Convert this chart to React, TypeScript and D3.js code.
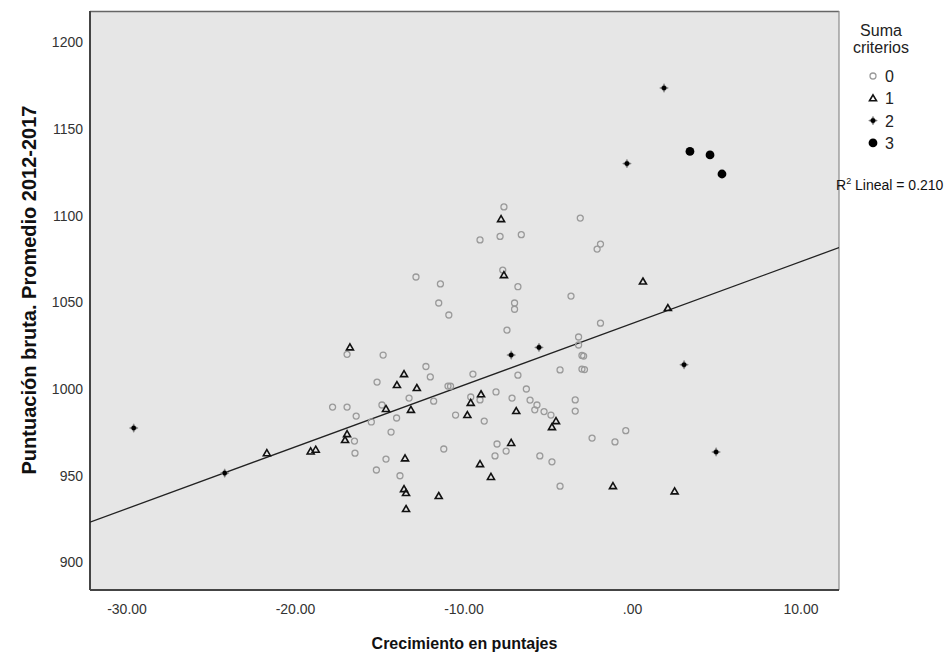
import React, { useEffect, useRef } from 'react';
import * as d3 from 'd3';

// Suma criterios = 0
const suma0: [number, number][] = [
  [-7.63, 1105], [-9.05, 1086], [-7.86, 1088], [-6.6, 1089], [-3.1, 1098.6], [-1.9, 1083.6],
  [-2.1, 1080.7], [-12.85, 1064.6], [-11.4, 1060.6], [-7.7, 1068.6], [-6.8, 1059], [-3.65, 1053.6],
  [-11.5, 1049.6], [-7.0, 1049.6], [-7.0, 1046], [-10.9, 1042.7], [-7.45, 1034], [-1.9, 1038],
  [-3.2, 1030], [-3.2, 1025.4], [-3.0, 1019.4], [-2.9, 1019.0], [-3.0, 1011.5], [-2.85, 1011.2],
  [-16.94, 1020], [-14.8, 1019.6], [-12.26, 1013], [-9.47, 1008.6], [-12.0, 1007], [-6.8, 1008],
  [-4.3, 1011], [-15.16, 1004], [-10.95, 1001.7], [-10.8, 1001.6], [-6.3, 1000], [-8.1, 998.3],
  [-7.15, 994.8], [-6.08, 993.6], [-5.67, 990.8], [-5.8, 988], [-5.25, 987], [-4.84, 985],
  [-3.4, 993.7], [-3.4, 987.3], [-13.26, 994.8], [-11.8, 993], [-9.6, 995.4], [-9.05, 993.7],
  [-17.8, 989.6], [-16.94, 989.6], [-14.87, 990.8], [-16.4, 984.4], [-14.0, 983.3], [-10.5, 985],
  [-8.8, 981.5], [-15.5, 981], [-16.5, 970], [-16.47, 963], [-14.33, 975.2], [-11.2, 965.4],
  [-8.04, 968.3], [-7.5, 964.2], [-8.16, 961.4], [-5.5, 961.4], [-4.78, 958], [-2.4, 971.7],
  [-1.04, 969.5], [-0.4, 976], [-14.63, 959.6], [-15.2, 953.3], [-13.8, 950], [-4.3, 944],
];

// Suma criterios = 1
const suma1: [number, number][] = [
  [-7.8, 1098], [-7.63, 1065.7], [-16.77, 1024], [-13.56, 1008.6], [-13.98, 1002.3], [-12.8, 1000.6],
  [-8.99, 997], [-9.6, 992], [-14.63, 988.5], [-13.15, 988], [-6.9, 987.3], [-9.8, 985],
  [-4.54, 981.5], [-4.78, 978], [-16.94, 974], [-17.06, 970.6], [-21.7, 963], [-19.1, 964],
  [-18.8, 965], [-7.2, 968.9], [-13.5, 960], [-9.05, 956.7], [-8.4, 949.3], [-13.56, 942.3],
  [-13.44, 940], [-11.5, 938.3], [-13.44, 930.8], [0.62, 1062], [2.1, 1046.7], [-1.16, 944],
  [2.5, 941],
];

// Suma criterios = 2
const suma2: [number, number][] = [
  [-29.6, 977.5], [-24.2, 951.5], [-7.2, 1019.6], [-5.55, 1024], [1.87, 1173.6], [-0.33, 1130],
  [3.06, 1014], [4.96, 963.7],
];

// Suma criterios = 3
const suma3: [number, number][] = [
  [3.41, 1137], [4.6, 1135], [5.31, 1124],
];

const xTicks = [-30, -20, -10, 0, 10];
const yTicks = [900, 950, 1000, 1050, 1100, 1150, 1200];
const legendLabels = ['0', '1', '2', '3'];

// fit line (R2 lineal = 0.210)
const fitIntercept = 1037.9;
const fitSlope = 3.562;
const r2 = 0.21;

const font = 'Liberation Sans, Arial, sans-serif';

const starPath = (r: number) => {
  const ri = r * 0.5;
  const pts: string[] = [];
  for (let i = 0; i < 8; i++) {
    const a = (Math.PI / 4) * i - Math.PI / 2;
    const rr = i % 2 === 0 ? r : ri;
    pts.push(`${(rr * Math.cos(a)).toFixed(2)},${(rr * Math.sin(a)).toFixed(2)}`);
  }
  return `M${pts.join('L')}Z`;
};
const triPath = 'M0,-3.5L3.5,2.5L-3.5,2.5Z';

const drawMarker = (sel: any, cat: number) => {
  if (cat === 0) {
    sel.append('circle').attr('r', 3).attr('fill', 'none')
      .attr('stroke', '#9a9a9a').attr('stroke-width', 1.3);
  } else if (cat === 1) {
    sel.append('path').attr('d', triPath).attr('fill', 'none')
      .attr('stroke', '#111').attr('stroke-width', 1.6).attr('stroke-linejoin', 'miter');
  } else if (cat === 2) {
    sel.append('path').attr('d', starPath(4.4)).attr('fill', '#555')
      .attr('stroke', '#999').attr('stroke-width', 0.6);
    sel.append('circle').attr('r', 2.3).attr('fill', '#000');
  } else {
    sel.append('circle').attr('r', 4.4).attr('fill', '#000');
  }
};

const App = () => {
  const ref = useRef<SVGSVGElement>(null);

  useEffect(() => {
    const svg = d3.select(ref.current);
    svg.selectAll('*').remove();

    const left = 90, right = 839, top = 11, bottom = 590;

    const xScale = d3.scaleLinear().domain([-32.196, 12.255]).range([left, right]);
    const yScale = d3.scaleLinear().domain([884.1, 1218]).range([bottom, top]);

    // plot background
    svg.append('rect')
      .attr('x', left).attr('y', top)
      .attr('width', right - left).attr('height', bottom - top)
      .attr('fill', '#e6e6e6');

    svg.append('defs').append('clipPath').attr('id', 'plotclip')
      .append('rect')
      .attr('x', left).attr('y', top)
      .attr('width', right - left).attr('height', bottom - top);

    // frame
    svg.append('line').attr('x1', left).attr('x2', right).attr('y1', top + 0.5).attr('y2', top + 0.5)
      .attr('stroke', '#666').attr('stroke-width', 1.5);
    svg.append('line').attr('x1', right).attr('x2', right).attr('y1', top).attr('y2', bottom)
      .attr('stroke', '#8a8a8a').attr('stroke-width', 1.2);
    svg.append('line').attr('x1', left).attr('x2', left).attr('y1', top).attr('y2', bottom)
      .attr('stroke', '#444').attr('stroke-width', 2);
    svg.append('line').attr('x1', left).attr('x2', right).attr('y1', bottom).attr('y2', bottom)
      .attr('stroke', '#444').attr('stroke-width', 2);

    // tick labels
    svg.append('g').selectAll('text')
      .data(yTicks)
      .enter().append('text')
      .attr('x', left - 7)
      .attr('y', d => yScale(d))
      .attr('dy', '0.35em')
      .attr('text-anchor', 'end')
      .style('font-family', font).style('font-size', '14px').style('fill', '#333')
      .text(d => d);

    // SPSS style: ".00" for zero, plain hyphen for negatives
    const fmtX = (d: number) => (d === 0 ? '.00' : d.toFixed(2));
    svg.append('g').selectAll('text')
      .data(xTicks)
      .enter().append('text')
      .attr('x', d => xScale(d))
      .attr('y', bottom + 24)
      .attr('text-anchor', 'middle')
      .style('font-family', font).style('font-size', '14px').style('fill', '#333')
      .text(d => fmtX(d));

    // regression line
    const [x0, x1] = xScale.domain();
    svg.append('line')
      .attr('clip-path', 'url(#plotclip)')
      .attr('x1', xScale(x0)).attr('y1', yScale(fitIntercept + fitSlope * x0))
      .attr('x2', xScale(x1)).attr('y2', yScale(fitIntercept + fitSlope * x1))
      .attr('stroke', '#222').attr('stroke-width', 1.3);

    // points
    const groups = [suma0, suma1, suma2, suma3];
    groups.forEach((pts, cat) => {
      const g = svg.append('g').attr('clip-path', 'url(#plotclip)');
      pts.forEach(p => {
        const m = g.append('g').attr('transform', `translate(${xScale(p[0])},${yScale(p[1])})`);
        drawMarker(m, cat);
      });
    });

    // axis titles
    svg.append('text')
      .attr('x', (left + right) / 2)
      .attr('y', 649)
      .attr('text-anchor', 'middle')
      .style('font-family', font).style('font-size', '16px').style('font-weight', 'bold').style('fill', '#111')
      .text('Crecimiento en puntajes');

    svg.append('text')
      .attr('transform', 'translate(36, 290) rotate(-90)')
      .attr('text-anchor', 'middle')
      .style('font-family', font).style('font-size', '20px').style('font-weight', 'bold').style('fill', '#111')
      .text('Puntuación bruta. Promedio 2012-2017');

    // legend
    const lg = svg.append('g');
    lg.append('text').attr('x', 881).attr('y', 36).attr('text-anchor', 'middle')
      .style('font-family', font).style('font-size', '16px').style('fill', '#222').text('Suma');
    lg.append('text').attr('x', 881).attr('y', 53).attr('text-anchor', 'middle')
      .style('font-family', font).style('font-size', '16px').style('fill', '#222').text('criterios');
    legendLabels.forEach((lab, i) => {
      const cy = 76 + i * 22.3;
      const m = lg.append('g').attr('transform', `translate(873,${cy})`);
      drawMarker(m, i);
      lg.append('text').attr('x', 885).attr('y', cy).attr('dy', '0.37em')
        .style('font-family', font).style('font-size', '16px').style('fill', '#222').text(lab);
    });

    // R2 label
    const r2t = svg.append('text').attr('x', 836).attr('y', 190)
      .style('font-family', font).style('font-size', '14px').style('fill', '#111');
    r2t.append('tspan').text('R');
    r2t.append('tspan').attr('dy', -6).style('font-size', '9px').text('2');
    r2t.append('tspan').attr('dy', 6).text(` Lineal = ${r2.toFixed(3)}`);
  }, []);

  return (
    <svg
      ref={ref}
      width={952}
      height={656}
      style={{ position: 'absolute', left: 0, top: 0, background: '#fff' }}
    ></svg>
  );
};

export default App;
